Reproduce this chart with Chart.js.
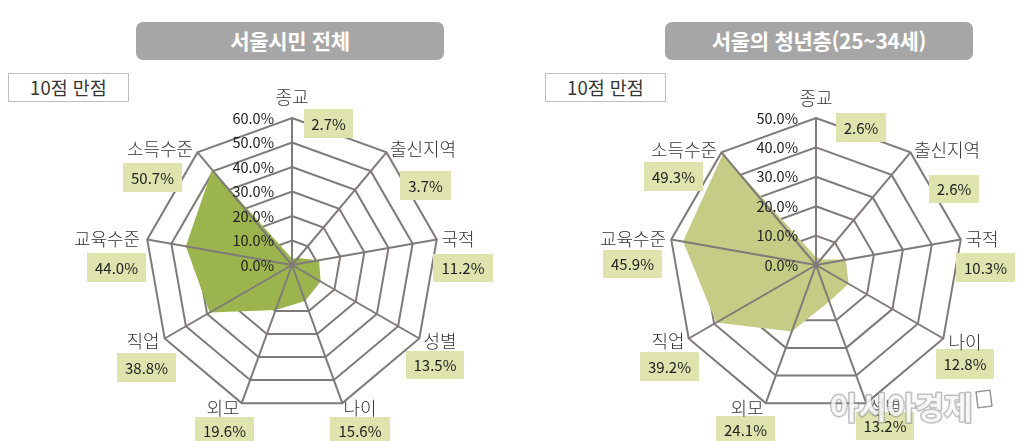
<!DOCTYPE html>
<html lang="ko">
<head>
<meta charset="utf-8">
<script src="https://cdn.jsdelivr.net/npm/chart.js@4"></script>
<style>
html,body{margin:0;padding:0;background:#fff;width:1024px;height:441px;overflow:hidden;font-family:"Noto Sans CJK KR","Noto Sans",sans-serif}
canvas{position:absolute;top:0}
#c1{left:0}#c2{left:512px}
.title{position:absolute;top:22px;height:38px;width:308px;background:#a6a6a6;border-radius:7px;color:#fff;font-weight:700;font-size:21px;line-height:36px;text-align:center;z-index:2;letter-spacing:-0.3px}
.note{position:absolute;top:73px;height:27px;width:119px;box-sizing:content-box;border:1px solid #bfbfbf;background:#fff;color:#333;font-size:18.5px;font-weight:400;line-height:26px;text-align:center;z-index:2;opacity:.99}
</style>
</head>
<body>
<div class="title" style="left:136px">서울시민 전체</div>
<div class="title" style="left:665px">서울의 청년층(25~34세)</div>
<div class="note" style="left:8px">10점 만점</div>
<div class="note" style="left:545px">10점 만점</div>
<canvas id="c1" width="512" height="441"></canvas>
<canvas id="c2" width="512" height="441"></canvas>
<script>
// ---- data ----
const categoriesAll   = ['종교','출신지역','국적','성별','나이','외모','직업','교육수준','소득수준'];
const valuesAll       = [2.7,3.7,11.2,13.5,15.6,19.6,38.8,44.0,50.7];
const categoriesYouth = ['종교','출신지역','국적','나이','성별','외모','직업','교육수준','소득수준'];
const valuesYouth     = [2.6,2.6,10.3,12.8,13.2,24.1,39.2,45.9,49.3];
const maxAll = 60;
const maxYouth = 50;
const tickStep = 10;

// ---- annotation layout (canvas coordinates, separate from data) ----
const labelPosAll = [[292,97],[423,149],[458,239],[440,341],[360,408],[223,408],[143,341],[107,239],[160,149]];
const boxPosAll   = [[304,109,49,29],[400,171,51,29],[433,254,60,28],[406,351,58,28],[330,417,60,28],[195,417,59,28],[117,353,59,29],[87,253,59,29],[123,163,59,29]];
const labelPosYouth = [[304,98],[435,150],[470,239],[453,342],[373,407],[235,408],[156,341],[121,239],[172,150]];
const boxPosYouth   = [[324,113,50,29],[417,175,50,28],[444,253,59,29],[424,349,58,30],[344,412,58,28],[204,416,59,28],[128,352,59,29],[91,250,59,28],[132,162,59,29]];

const GRID = '#7f7b78', BOX = '#dfe4ae', INK = '#222', FONT = '"Noto Sans CJK KR","Noto Sans",sans-serif';

function overlay(labels, values, labelPos, boxPos, watermark){
  return {
    id:'overlay',
    afterDatasetsDraw(chart){
      const s = chart.scales.r, c = chart.ctx;
      c.save();
      c.strokeStyle = GRID; c.lineWidth = 2;
      labels.forEach((_,i)=>{
        const p = s.getPointPosition(i, s.drawingArea);
        c.beginPath(); c.moveTo(s.xCenter,s.yCenter); c.lineTo(p.x,p.y); c.stroke();
      });
      c.restore();
    },
    afterDraw(chart){
      const s = chart.scales.r, c = chart.ctx;
      c.save();
      c.fillStyle = INK; c.font = '14.5px '+FONT; c.textAlign='right'; c.textBaseline='middle';
      s.ticks.forEach(t=>{
        c.fillText(t.label, s.xCenter-18, s.yCenter - s.getDistanceFromCenterForValue(t.value));
      });
      c.textAlign='center';
      labels.forEach((l,i)=>{
        const [x,y,w,h] = boxPos[i];
        c.fillStyle = BOX; c.fillRect(x,y,w,h);
        c.fillStyle = INK; c.font = '15px '+FONT;
        c.fillText(values[i].toFixed(1)+'%', x+w/2, y+h/2+0.5);
        c.fillStyle = '#333'; c.font = '300 18px '+FONT;
        c.fillText(l, labelPos[i][0], labelPos[i][1]);
      });
      if(watermark){
        c.font = '700 31px '+FONT;
        c.textAlign='left';
        c.lineJoin='round';
        c.lineWidth=3; c.strokeStyle='rgba(150,150,150,.6)';
        c.strokeText('아시아경제',318,407);
        c.fillStyle='rgba(255,255,255,.8)'; c.fillText('아시아경제',318,407);
        c.lineWidth=1.5; c.strokeStyle='rgba(120,120,120,.8)';
        c.translate(472,399); c.rotate(-0.12); c.strokeRect(-7,-8,14,16);
      }
      c.restore();
    }
  };
}

function radar(id, labels, values, max, fill, pad, labelPos, boxPos, watermark){
  return new Chart(document.getElementById(id),{
    type:'radar',
    data:{labels, datasets:[{data:values, backgroundColor:fill, borderWidth:0, pointRadius:0, fill:true, tension:0}]},
    options:{
      responsive:false, animation:false,
      layout:{padding:pad},
      plugins:{legend:{display:false},tooltip:{enabled:false},title:{display:false}},
      scales:{r:{
        min:0,max,
        ticks:{stepSize:tickStep,display:false,showLabelBackdrop:false,callback:v=>v.toFixed(1)+'%'},
        pointLabels:{display:false},
        angleLines:{display:false},
        grid:{color:GRID,lineWidth:2,circular:false}
      }}
    },
    plugins:[overlay(labels,values,labelPos,boxPos,watermark)]
  });
}
radar('c1',categoriesAll,valuesAll,maxAll,'#9bb44d',{left:145,right:73,top:118,bottom:29},labelPosAll,boxPosAll,false);
radar('c2',categoriesYouth,valuesYouth,maxYouth,'#c4cc85',{left:157,right:61,top:118,bottom:29},labelPosYouth,boxPosYouth,true);
</script>
</body>
</html>
